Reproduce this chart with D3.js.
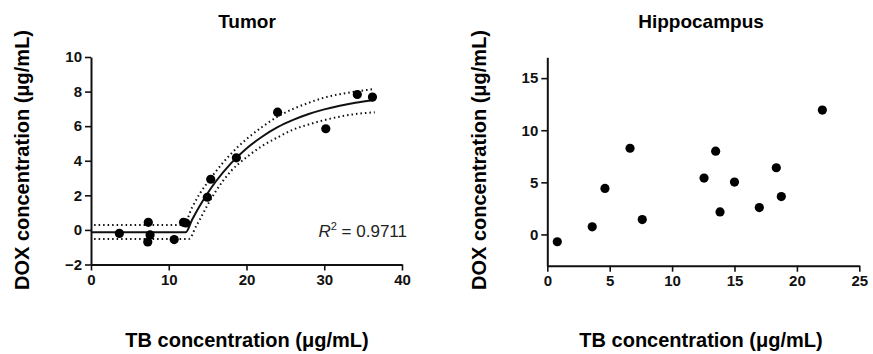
<!DOCTYPE html>
<html>
<head>
<meta charset="utf-8">
<script src="https://cdn.jsdelivr.net/npm/d3@7"></script>
<style>
  body { margin: 0; background: #fff; }
  text { font-family: "Liberation Sans", Arial, sans-serif; }
</style>
</head>
<body>
<div id="chart"></div>
<script>
// Tumor: measured points
const tumorX = [3.65, 7.37, 7.6, 7.3, 10.7, 11.9, 12.2, 14.96, 15.4, 18.7, 24.0, 30.2, 34.25, 36.2];
const tumorY = [-0.2, 0.44, -0.29, -0.7, -0.56, 0.44, 0.4, 1.89, 2.93, 4.17, 6.81, 5.85, 7.83, 7.68];

// Tumor: fitted curve and confidence band
const fitX = [0, 12.2, 13, 14, 15, 16, 18, 20, 22, 24, 26, 28, 30, 32, 34, 36.5];
const fitY = [-0.13, -0.13, 0.59, 1.40, 2.12, 2.77, 3.85, 4.71, 5.39, 5.94, 6.36, 6.70, 6.97, 7.18, 7.35, 7.51];
const upperX = [0.4, 11.9, 13, 14, 15, 16, 18, 20, 22, 24, 26, 28, 30, 32, 34, 36.5];
const upperY = [0.28, 0.28, 1.3, 2.1, 2.75, 3.35, 4.4, 5.25, 5.95, 6.55, 7.0, 7.35, 7.65, 7.85, 8.0, 8.15];
const lowerX = [0.4, 12.6, 13.5, 14, 15, 16, 18, 20, 22, 24, 26, 28, 30, 32, 34, 36.5];
const lowerY = [-0.52, -0.52, 0.2, 0.6, 1.45, 2.2, 3.4, 4.2, 4.85, 5.35, 5.8, 6.1, 6.35, 6.55, 6.7, 6.8];

// Hippocampus: measured points
const hippoX = [0.8, 3.6, 4.62, 6.63, 7.61, 12.56, 13.49, 13.84, 15.0, 16.99, 18.35, 18.75, 22.04];
const hippoY = [-0.7, 0.73, 4.42, 8.27, 1.43, 5.41, 7.99, 2.16, 5.03, 2.58, 6.4, 3.63, 11.94];

const tumorXTicks = [0, 10, 20, 30, 40];
const tumorYTicks = [-2, 0, 2, 4, 6, 8, 10];
const hippoXTicks = [0, 5, 10, 15, 20, 25];
const hippoYTicks = [0, 5, 10, 15];

const yLabel = "DOX concentration (\u03bcg/mL)";
const xLabel = "TB concentration (\u03bcg/mL)";

const width = 873, height = 354;

const svg = d3.select("#chart")
  .append("svg")
  .attr("width", width)
  .attr("height", height);

function drawAxes(x, y, xTicks, yTicks) {
  const xAxis = svg.append("g")
    .attr("transform", `translate(0, ${y.range()[0]})`)
    .call(d3.axisBottom(x).tickValues(xTicks).tickSize(6).tickSizeOuter(0).tickPadding(4));
  const yAxis = svg.append("g")
    .attr("transform", `translate(${x.range()[0]}, 0)`)
    .call(d3.axisLeft(y).tickValues(yTicks).tickSize(6).tickSizeOuter(0).tickPadding(3));
  [xAxis, yAxis].forEach(function (g) {
    g.select(".domain").attr("stroke", "#111").attr("stroke-width", 2);
    g.selectAll(".tick line").attr("stroke", "#111").attr("stroke-width", 1.6);
    g.selectAll(".tick text")
      .attr("fill", "#111")
      .style("font-size", "15px")
      .style("font-weight", "bold")
      .style("font-family", "'Liberation Sans', Arial, sans-serif");
  });
}

function drawLabels(cx, title, yLabelX) {
  svg.append("text")
    .attr("x", cx).attr("y", 28)
    .attr("text-anchor", "middle")
    .style("font-size", "19px").style("font-weight", "bold")
    .text(title);
  svg.append("text")
    .attr("x", cx).attr("y", 347)
    .attr("text-anchor", "middle")
    .style("font-size", "20px").style("font-weight", "bold")
    .text(xLabel);
  svg.append("text")
    .attr("transform", `translate(${yLabelX}, 160) rotate(-90)`)
    .attr("text-anchor", "middle")
    .attr("dominant-baseline", "central")
    .style("font-size", "20px").style("font-weight", "bold")
    .text(yLabel);
}

function drawDots(x, y, xs, ys) {
  svg.append("g")
    .selectAll("circle")
    .data(xs.map((d, i) => [d, ys[i]]))
    .join("circle")
    .attr("cx", d => x(d[0]))
    .attr("cy", d => y(d[1]))
    .attr("r", 4.6)
    .attr("fill", "#000");
}

// ---- Tumor panel
const x1 = d3.scaleLinear().domain([0, 40]).range([91, 402]);
const y1 = d3.scaleLinear().domain([-2, 10]).range([264.5, 57]);

drawAxes(x1, y1, tumorXTicks, tumorYTicks);
drawLabels(247, "Tumor", 22);

const line1 = d3.line()
  .x(d => x1(d[0]))
  .y(d => y1(d[1]))
  .curve(d3.curveMonotoneX);

svg.append("path")
  .datum(upperX.map((d, i) => [d, upperY[i]]))
  .attr("fill", "none")
  .attr("stroke", "#111")
  .attr("stroke-width", 2)
  .attr("stroke-dasharray", "1.5,3")
  .attr("d", line1);

svg.append("path")
  .datum(lowerX.map((d, i) => [d, lowerY[i]]))
  .attr("fill", "none")
  .attr("stroke", "#111")
  .attr("stroke-width", 2)
  .attr("stroke-dasharray", "1.5,3")
  .attr("d", line1);

svg.append("path")
  .datum(fitX.map((d, i) => [d, fitY[i]]))
  .attr("fill", "none")
  .attr("stroke", "#111")
  .attr("stroke-width", 2)
  .attr("d", line1);

drawDots(x1, y1, tumorX, tumorY);

// R squared note
const r2 = svg.append("text")
  .attr("x", 407).attr("y", 237)
  .attr("text-anchor", "end")
  .style("font-size", "17px")
  .attr("fill", "#222");
r2.append("tspan").style("font-style", "italic").text("R");
r2.append("tspan").attr("dy", -7).style("font-size", "11px").text("2");
r2.append("tspan").attr("dy", 7).text(" = 0.9711");

// ---- Hippocampus panel
const x2 = d3.scaleLinear().domain([0, 25]).range([547.3, 859.3]);
const y2 = d3.scaleLinear().domain([-3, 17]).range([265.7, 57.3]);

drawAxes(x2, y2, hippoXTicks, hippoYTicks);
drawLabels(701, "Hippocampus", 479);
drawDots(x2, y2, hippoX, hippoY);
</script>
</body>
</html>
